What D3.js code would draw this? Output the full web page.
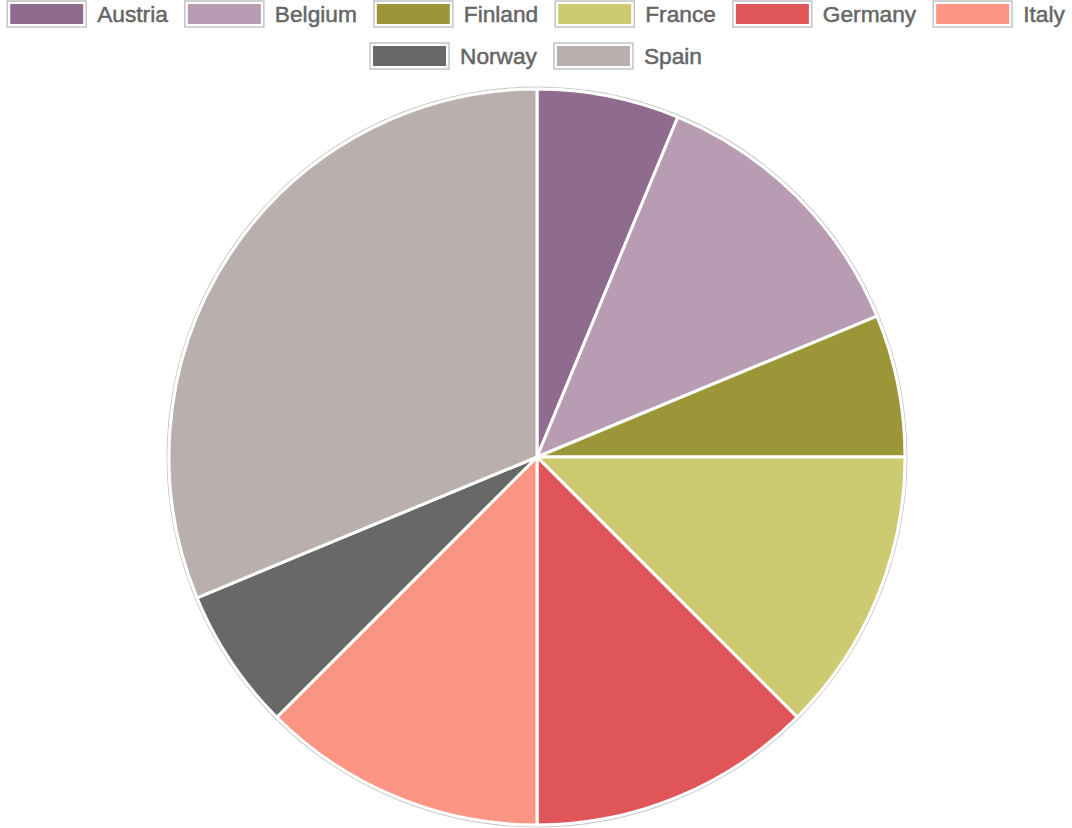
<!DOCTYPE html>
<html>
<head>
<meta charset="utf-8">
<script src="https://cdn.jsdelivr.net/npm/d3@7"></script>
<style>
  html, body { margin: 0; padding: 0; background: #fff; }
  svg { display: block; }
  text { font-family: "Liberation Sans", Arial, Helvetica, sans-serif; }
</style>
</head>
<body>
<svg id="chart" width="1072" height="828"></svg>
<script>
// Share of items per country
const countries = ["Austria", "Belgium", "Finland", "France", "Germany", "Italy", "Norway", "Spain"];
const counts = [1, 2, 1, 2, 2, 2, 1, 5];
const colors = ["#8f6b8d", "#b89cb3", "#9b9638", "#cdca72", "#e05557", "#fd9584", "#686868", "#b9b0ad"];

const W = 1072, H = 828;
const svg = d3.select("#chart");

const color = d3.scaleOrdinal().domain(countries).range(colors);

// ---- Legend (two centred rows) ----
const boxW = 79, boxH = 26, textGap = 11, itemGap = 17, fontSize = 22.7;
const rows = [countries.slice(0, 6), countries.slice(6)];
const rowY = [14, 56];

const legend = svg.append("g").attr("class", "legend");

rows.forEach((row, ri) => {
  const g = legend.append("g");
  // measure label widths first
  const items = row.map(name => {
    const t = g.append("text")
      .attr("font-size", fontSize)
      .text(name);
    const w = t.node().getComputedTextLength();
    t.remove();
    return { name, w };
  });
  const total = d3.sum(items, d => boxW + textGap + d.w) + itemGap * (items.length - 1);
  let x = (W - total) / 2;
  items.forEach(d => {
    const cy = rowY[ri];
    g.append("rect")
      .attr("x", x).attr("y", cy - boxH / 2)
      .attr("width", boxW).attr("height", boxH)
      .attr("fill", "#fff")
      .attr("stroke", "#c4c4c4")
      .attr("stroke-width", 1.5);
    g.append("rect")
      .attr("x", x + 3).attr("y", cy - boxH / 2 + 3)
      .attr("width", boxW - 6).attr("height", boxH - 6)
      .attr("fill", color(d.name));
    g.append("text")
      .attr("x", x + boxW + textGap)
      .attr("y", cy)
      .attr("dy", "0.35em")
      .attr("font-size", fontSize)
      .attr("fill", "#666")
      .attr("stroke", "#666")
      .attr("stroke-width", 0.5)
      .text(d.name);
    x += boxW + textGap + d.w + itemGap;
  });
});

// ---- Pie ----
const cx = 537, cy = 457, r = 368;

const pie = d3.pie().sort(null).value(d => d.v);
const arcs = pie(countries.map((c, i) => ({ c, v: counts[i] })));
const arc = d3.arc().innerRadius(0).outerRadius(r);

const pg = svg.append("g").attr("transform", `translate(${cx},${cy})`);

// faint outer rim
pg.append("circle")
  .attr("r", r + 1.8)
  .attr("fill", "none")
  .attr("stroke", "#c8c8c8")
  .attr("stroke-width", 1.2);

pg.selectAll("path.slice")
  .data(arcs)
  .join("path")
  .attr("class", "slice")
  .attr("d", arc)
  .attr("fill", d => color(d.data.c))
  .attr("stroke", "#fff")
  .attr("stroke-width", 3)
  .attr("stroke-linejoin", "round");
</script>
</body>
</html>
